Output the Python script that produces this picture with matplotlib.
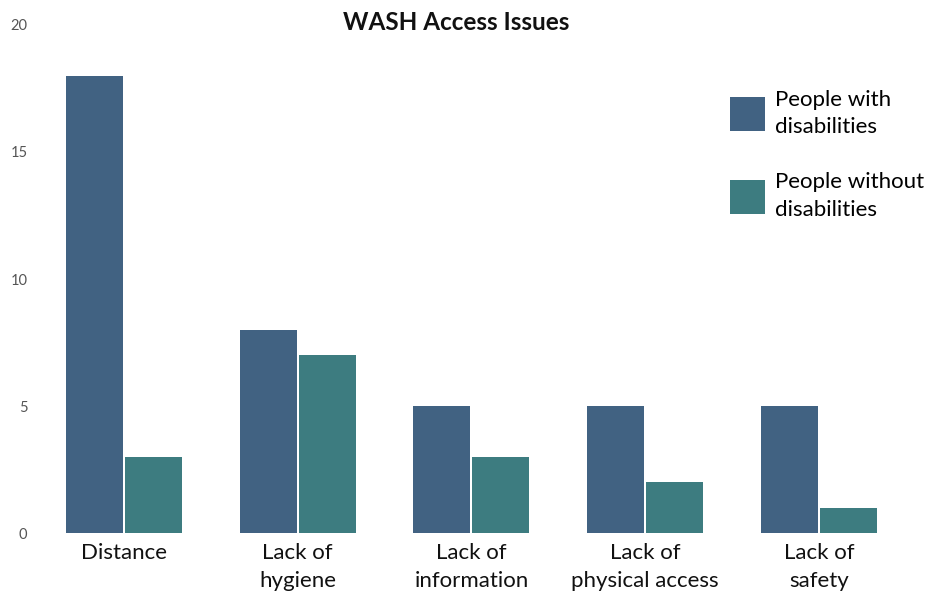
import matplotlib
matplotlib.use("Agg")
import matplotlib.pyplot as plt
import numpy as np

categories = ["Distance", "Lack of\nhygiene", "Lack of\ninformation", "Lack of\nphysical access", "Lack of\nsafety"]
with_disab = [18, 8, 5, 5, 5]
without_disab = [3, 7, 3, 2, 1]
series_names = ["People with\ndisabilities", "People without\ndisabilities"]
yticks = [0, 5, 10, 15, 20]

blue = "#416282"
teal = "#3d7c80"

plt.rcParams["font.family"] = ["Lato", "DejaVu Sans"]

fig = plt.figure(figsize=(9.3, 5.93), dpi=100)
ax = fig.add_axes([0.043, 0.101, 0.957, 0.857])

x = np.arange(len(categories))
w = 0.328
gap = 0.006
ax.bar(x - w / 2 - gap, with_disab, width=w, color=blue, label=series_names[0])
ax.bar(x + w / 2 + gap, without_disab, width=w, color=teal, label=series_names[1])

ax.set_xlim(-0.483, 4.639)
ax.set_ylim(0, 20)
ax.set_yticks(yticks)
ax.set_yticklabels([str(t) for t in yticks], color="#555555", fontsize=10.5)
ax.set_xticks(x)
ax.set_xticklabels(categories, fontsize=16, color="#111111", linespacing=1.5)
ax.tick_params(axis="both", length=0)
ax.tick_params(axis="y", pad=9)
ax.tick_params(axis="x", pad=7)
for s in ax.spines.values():
    s.set_visible(False)

fig.text(0.49, 0.962, "WASH Access Issues", ha="center", va="center",
         fontsize=17.5, fontweight="bold", color="#111111")

leg = ax.legend(loc="upper left", bbox_to_anchor=(0.765, 0.89), frameon=False,
                fontsize=16, handlelength=1.6, handleheight=2.0,
                labelspacing=1.6, handletextpad=0.45, borderaxespad=0)
for t in leg.get_texts():
    t.set_linespacing(1.45)

fig.savefig("out.png", dpi=100)
